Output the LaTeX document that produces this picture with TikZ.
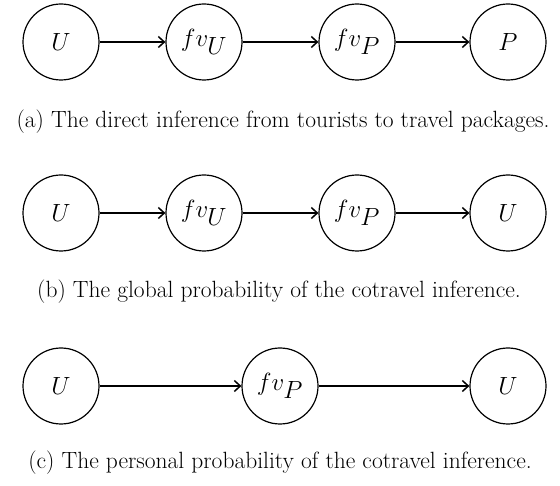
\documentclass[tikz,border=0pt]{standalone}
\usetikzlibrary{arrows.meta}
\begin{document}
\begin{tikzpicture}[x=1pt,y=-1pt,
  var/.style={circle,draw,line width=1.2pt,minimum size=76pt,inner sep=0pt,font=\fontsize{34}{34}\selectfont},
  edge/.style={line width=1.5pt,-{Straight Barb[length=6pt,width=11pt,line width=1.5pt]}},
  captext/.style={font=\fontsize{23.5}{26}\selectfont,inner sep=0pt}]
\useasboundingbox (0,0) rectangle (560,486);
% row a
\node[var] (a1) at (61,42) {$U$};
\node[var] (a2) at (204,42) {$fv_U$};
\node[var] (a3) at (357,42) {$fv_P$};
\node[var] (a4) at (508,42) {$P$};
\draw[edge] (a1) -- (a2);
\draw[edge] (a2) -- (a3);
\draw[edge] (a3) -- (a4);
\node[captext] (ca) at (283,122) {(a) The direct inference from tourists to travel packages.};
% row b
\node[var] (b1) at (61,213) {$U$};
\node[var] (b2) at (204,213) {$fv_U$};
\node[var] (b3) at (357,213) {$fv_P$};
\node[var] (b4) at (508,213) {$U$};
\draw[edge] (b1) -- (b2);
\draw[edge] (b2) -- (b3);
\draw[edge] (b3) -- (b4);
\node[captext] (cb) at (279,292) {(b) The global probability of the cotravel inference.};
% row c
\node[var] (c1) at (61,386) {$U$};
\node[var] (c2) at (280,386) {$fv_P$};
\node[var] (c3) at (508,386) {$U$};
\draw[edge] (c1) -- (c2);
\draw[edge] (c2) -- (c3);
\node[captext] (cc) at (280,463) {(c) The personal probability of the cotravel inference.};
\end{tikzpicture}
\end{document}
